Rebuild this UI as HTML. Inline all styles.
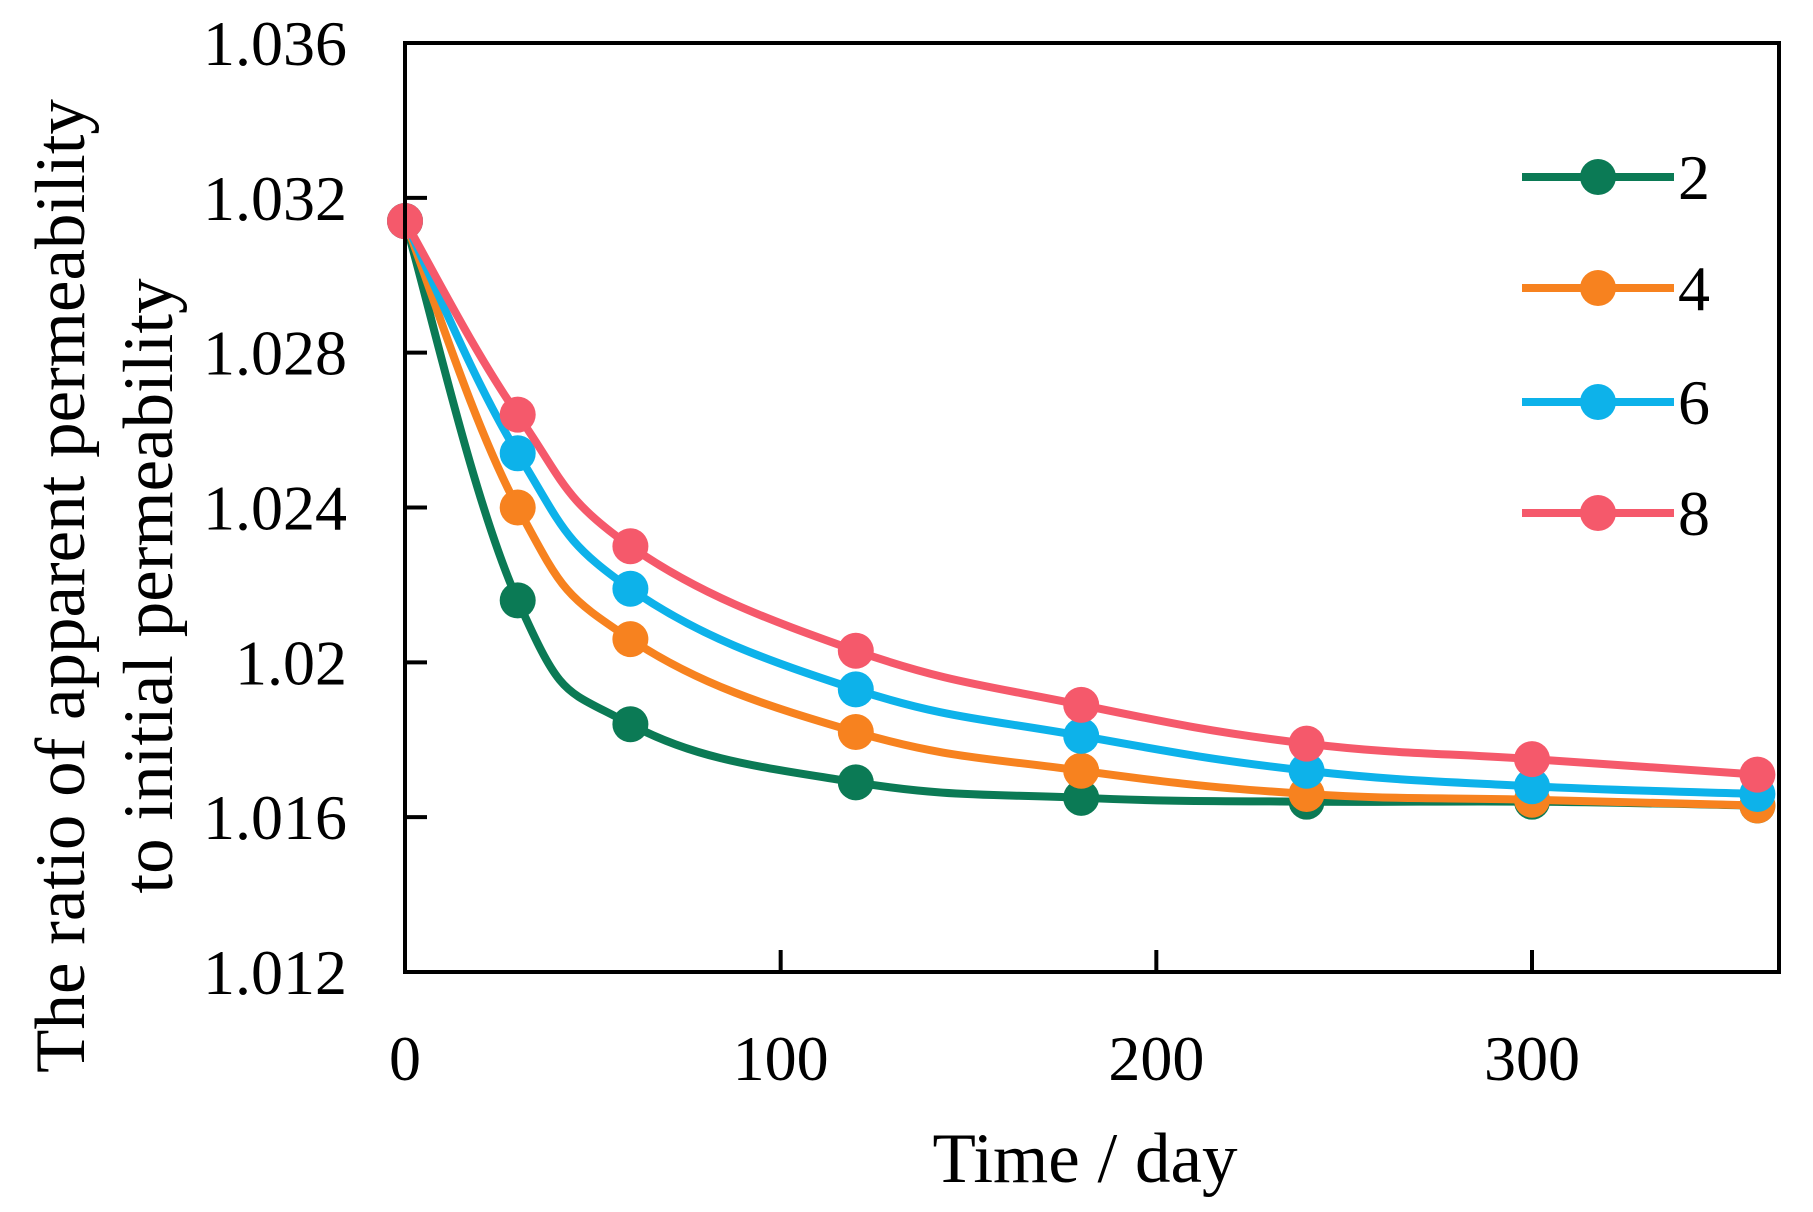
<!DOCTYPE html>
<html><head><meta charset="utf-8"><style>
body{margin:0;background:#fff}
svg{display:block;font-family:"Liberation Serif",serif}
</style></head><body>
<svg id="chart" width="1813" height="1212" viewBox="0 0 1813 1212">
<g id="plot"></g>
<g id="axes"></g>
<g id="legend"></g>
<text x="1085" y="1182" font-size="71" text-anchor="middle">Time / day</text>
<text transform="translate(84,586) rotate(-90)" font-size="71" text-anchor="middle">The ratio of apparent permeability</text>
<text transform="translate(172,586) rotate(-90)" font-size="71" text-anchor="middle">to initial permeability</text>
</svg>
<script>
const days = [0, 30, 60, 120, 180, 240, 300, 360];
const s2 = [1.0314, 1.0216, 1.0184, 1.0169, 1.0165, 1.0164, 1.0164, 1.0163];
const s4 = [1.0314, 1.0240, 1.0206, 1.0182, 1.0172, 1.0166, 1.01645, 1.0163];
const s6 = [1.0314, 1.0254, 1.0219, 1.0193, 1.0181, 1.0172, 1.0168, 1.0166];
const s8 = [1.0314, 1.0264, 1.0230, 1.0203, 1.0189, 1.0179, 1.0175, 1.0171];
const seriesNames = ["2", "4", "6", "8"];
const yTicks = [1.012, 1.016, 1.02, 1.024, 1.028, 1.032, 1.036];
const yTickLabels = ["1.012", "1.016", "1.02", "1.024", "1.028", "1.032", "1.036"];
const xTicks = [0, 100, 200, 300];
const NS = "http://www.w3.org/2000/svg";
const X0 = 405, X1 = 1779, Y0 = 972, Y1 = 43;
function xs(v){ return X0 + v * (1532 - 405) / 300; }
function ys(v){ return Y0 - (v - 1.012) / 0.024 * (Y0 - Y1); }
function mk(tag, attrs, parent){ const e = document.createElementNS(NS, tag); for (const k in attrs) e.setAttribute(k, attrs[k]); parent.appendChild(e); return e; }
const colors = ["#0b7a55", "#f7821f", "#0db2ea", "#f5596b"];
const all = [s2, s4, s6, s8];
const plot = document.getElementById("plot");
function smoothPath(pts){
  let d = "M" + pts[0][0] + "," + pts[0][1];
  for (let i = 0; i < pts.length - 1; i++) {
    const p0 = pts[Math.max(i - 1, 0)], p1 = pts[i], p2 = pts[i + 1], p3 = pts[Math.min(i + 2, pts.length - 1)];
    const t = 0.2;
    const c1 = [p1[0] + (p2[0] - p0[0]) * t, p1[1] + (p2[1] - p0[1]) * t];
    const c2 = [p2[0] - (p3[0] - p1[0]) * t, p2[1] - (p3[1] - p1[1]) * t];
    d += " C" + c1[0] + "," + c1[1] + " " + c2[0] + "," + c2[1] + " " + p2[0] + "," + p2[1];
  }
  return d;
}
all.forEach((s, si) => {
  const g = mk("g", {}, plot);
  
  
  const pts = days.map((d, i) => [xs(d), ys(s[i])]);
  const p = mk("path", {d: smoothPath(pts), fill: "none", stroke: colors[si], "stroke-width": 8}, g);
  
  
  pts.forEach((pt, i) => {
    const c = mk("circle", {cx: pt[0], cy: pt[1], r: 18, fill: colors[si]}, g);
    
    
  });
});
const axes = document.getElementById("axes");
const frame = mk("rect", {x: X0, y: Y1, width: X1 - X0, height: Y0 - Y1, fill: "none", stroke: "#000", "stroke-width": 4}, axes);


yTicks.forEach((v, i) => {
  const t = mk("line", {x1: X0, x2: X0 + 22, y1: ys(v), y2: ys(v), stroke: "#000", "stroke-width": 4}, axes);
  
  
  const l = mk("text", {x: 347, y: ys(v) + 22, "font-size": 64, "text-anchor": "end"}, axes);
  l.textContent = yTickLabels[i];
  
  
});
xTicks.forEach(v => {
  if (v > 0) {
    const t = mk("line", {x1: xs(v), x2: xs(v), y1: Y0, y2: Y0 - 22, stroke: "#000", "stroke-width": 4}, axes);
    
    
  }
  const l = mk("text", {x: xs(v), y: 1080, "font-size": 64, "text-anchor": "middle"}, axes);
  l.textContent = String(v);
  
  
});
const legend = document.getElementById("legend");
const ly = [177, 288, 402, 513];
seriesNames.forEach((n, i) => {
  const g = mk("g", {}, legend);
  
  
  mk("line", {x1: 1522, x2: 1674, y1: ly[i], y2: ly[i], stroke: colors[i], "stroke-width": 8}, g);
  mk("circle", {cx: 1598, cy: ly[i], r: 18, fill: colors[i]}, g);
  const t = mk("text", {x: 1678, y: ly[i] + 22, "font-size": 64}, g);
  t.textContent = n;
});
</script>
</body></html>
